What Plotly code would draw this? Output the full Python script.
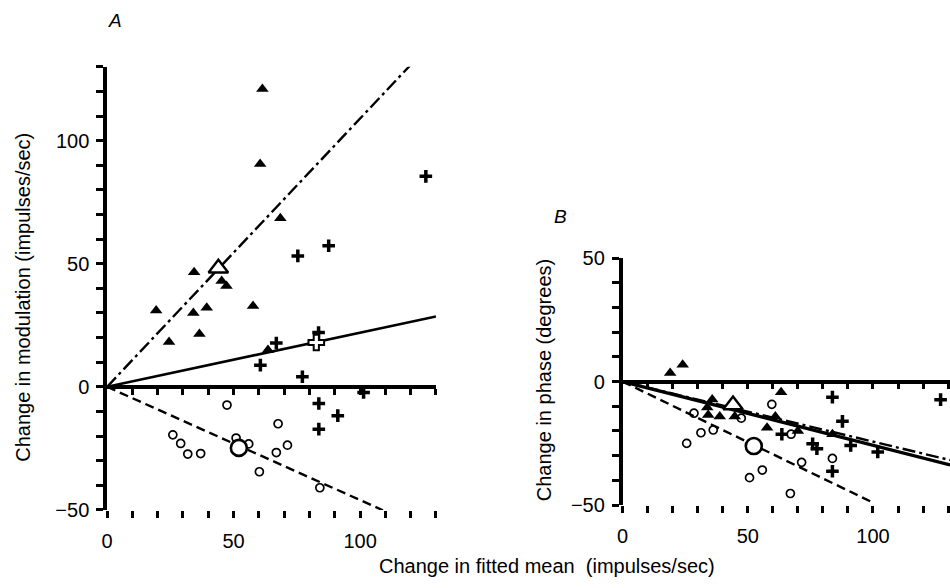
import plotly.graph_objects as go

# ---------------- Panel A data ----------------
A_tri_x = [61.4, 60.5, 68.5, 34.4, 45.3, 47.2, 19.4, 24.5, 34.1, 39.4, 36.5, 57.7, 63.6]
A_tri_y = [121, 90.5, 68.5, 46.5, 43, 41, 31, 18.2, 30, 32.1, 21.5, 32.8, 15]
A_open_tri_x = [44]
A_open_tri_y = [48.2]
A_plus_x = [126, 75.4, 87.6, 66.9, 60.6, 83.6, 77.2, 101.4, 83.7, 91.2, 83.7]
A_plus_y = [85.5, 53.2, 57.3, 17.8, 8.8, 22.1, 4.1, -2.3, -6.8, -11.7, -17.2]
A_open_plus_x = [82.7]
A_open_plus_y = [18]
A_circ_x = [47.4, 26, 29.1, 31.9, 37, 51, 56, 67.6, 66.9, 71.3, 60.2, 84.1]
A_circ_y = [-7.4, -19.5, -23, -27.3, -27.1, -20.8, -23.2, -15, -26.7, -23.7, -34.5, -41]
A_big_circ_x = [52.1]
A_big_circ_y = [-24.8]
# fitted lines through origin: slope and x extent
A_fit_slopes = {"dashdot": 1.09, "solid": 0.22, "dash": -0.46}
A_fit_xend = {"dashdot": 122, "solid": 130, "dash": 109}

# ---------------- Panel B data ----------------
B_tri_x = [19, 24, 35.8, 33.8, 34.2, 38.8, 46.1, 44.8, 63.3, 61, 57.7, 70, 83.8]
B_tri_y = [3.5, 6.8, -7.2, -10.5, -13.5, -14.1, -10.9, -14.1, -4.3, -14.1, -18.7, -20, -21.3]
B_open_tri_x = [44.1]
B_open_tri_y = [-9.5]
B_plus_x = [63.6, 83.8, 127, 87.8, 75.9, 77.6, 91.1, 101.9, 83.8]
B_plus_y = [-21.3, -6.3, -7.3, -16.1, -25.2, -27.2, -25.9, -28.5, -36.3]
B_circ_x = [28.5, 47.4, 31.3, 36.2, 25.6, 55.8, 50.7, 59.6, 67.3, 83.8, 71.5, 67]
B_circ_y = [-12.8, -14.8, -20.7, -19.6, -25, -35.8, -38.9, -9.2, -21.3, -31.1, -32.7, -45.3]
B_big_circ_x = [52.4]
B_big_circ_y = [-26.1]
B_fit_slopes = {"dashdot": -0.243, "solid": -0.258, "dash": -0.49}
B_fit_xend = {"dashdot": 130.8, "solid": 130.8, "dash": 100}

# tick labels
A_y_ticks = list(range(-50, 131, 10))
A_y_labels = {-50: "\u221250", 0: "0", 50: "50", 100: "100"}
B_y_ticks = list(range(-50, 51, 10))
B_y_labels = {-50: "\u221250", 0: "0", 50: "50"}
X_ticks = list(range(0, 131, 10))
X_labels = {0: "0", 50: "50", 100: "100"}

FONT = "Liberation Sans, Arial, sans-serif"
W, H = 950, 588

fig = go.Figure()

dash_styles = {"dashdot": "13px,4px,3px,4px", "solid": "solid", "dash": "9px,5px"}


def add_panel(xa, ya, tri, otri, plus, oplus, circ, bcirc, slopes, xend, solid_w):
    for k in ["dashdot", "solid", "dash"]:
        xs = [0, xend[k]]
        ys = [0, slopes[k] * xend[k]]
        fig.add_trace(go.Scatter(x=xs, y=ys, mode="lines", xaxis=xa, yaxis=ya,
                                 line=dict(color="black", width=solid_w if k == "solid" else 2.4,
                                           dash=dash_styles[k]),
                                 showlegend=False, hoverinfo="skip", cliponaxis=False))
    fig.add_trace(go.Scatter(x=circ[0], y=circ[1], mode="markers", xaxis=xa, yaxis=ya,
                             marker=dict(symbol="circle-open", size=8, color="black", line=dict(width=1.7)),
                             showlegend=False, cliponaxis=False))
    fig.add_trace(go.Scatter(x=bcirc[0], y=bcirc[1], mode="markers", xaxis=xa, yaxis=ya,
                             marker=dict(symbol="circle", size=16, color="white",
                                         line=dict(width=2.6, color="black")),
                             showlegend=False, cliponaxis=False))
    fig.add_trace(go.Scatter(x=tri[0], y=tri[1], mode="markers", xaxis=xa, yaxis=ya,
                             marker=dict(symbol="triangle-up", size=11, color="black"),
                             showlegend=False, cliponaxis=False))
    fig.add_trace(go.Scatter(x=plus[0], y=plus[1], mode="markers", xaxis=xa, yaxis=ya,
                             marker=dict(symbol="cross-thin", size=9, color="black",
                                         line=dict(width=3.5, color="black")),
                             showlegend=False, cliponaxis=False))
    if oplus is not None:
        fig.add_trace(go.Scatter(x=oplus[0], y=oplus[1], mode="markers", xaxis=xa, yaxis=ya,
                                 marker=dict(symbol="cross", size=13, color="white",
                                             line=dict(width=2, color="black")),
                                 showlegend=False, cliponaxis=False))
    fig.add_trace(go.Scatter(x=otri[0], y=otri[1], mode="markers", xaxis=xa, yaxis=ya,
                             marker=dict(symbol="triangle-up", size=17, color="white",
                                         line=dict(width=2.4, color="black")),
                             showlegend=False, cliponaxis=False))


add_panel("x", "y", (A_tri_x, A_tri_y), (A_open_tri_x, A_open_tri_y), (A_plus_x, A_plus_y),
          (A_open_plus_x, A_open_plus_y), (A_circ_x, A_circ_y), (A_big_circ_x, A_big_circ_y),
          A_fit_slopes, A_fit_xend, 2.6)
add_panel("x2", "y2", (B_tri_x, B_tri_y), (B_open_tri_x, B_open_tri_y), (B_plus_x, B_plus_y),
          None, (B_circ_x, B_circ_y), (B_big_circ_x, B_big_circ_y),
          B_fit_slopes, B_fit_xend, 3.4)

# pixel geometry
A_x0, A_x130 = 101.7, 432.7
A_ytop, A_ybot = 58.0, 518.3
B_x0 = 620.5
B_ytop, B_ybot = 256.7, 513.3
B_xmax = (W - B_x0) / 2.52

A_ydom = [(H - A_ybot) / H, (H - A_ytop) / H]
B_ydom = [(H - B_ybot) / H, (H - B_ytop) / H]

tickfont = dict(family=FONT, size=20, color="black")

common_y = dict(showgrid=False, zeroline=False, showline=True, linewidth=3.5, linecolor="black",
                ticks="outside", ticklen=7, tickwidth=3, tickcolor="black", tickfont=tickfont,
                ticklabelstandoff=3)
common_x = dict(showgrid=False, zeroline=False, showline=False,
                ticks="outside", ticklen=7, tickwidth=3, tickcolor="black", tickfont=tickfont,
                ticklabelstandoff=6)

fig.update_layout(
    width=W, height=H, margin=dict(l=0, r=0, t=0, b=0),
    paper_bgcolor="white", plot_bgcolor="rgba(0,0,0,0)", showlegend=False,
    xaxis=dict(domain=[A_x0 / W, A_x130 / W], range=[0, 130], anchor="y",
               tickvals=X_ticks, ticktext=[X_labels.get(v, "") for v in X_ticks], **common_x),
    yaxis=dict(domain=A_ydom, range=[-50, 130], anchor="x",
               tickvals=A_y_ticks, ticktext=[A_y_labels.get(v, "") for v in A_y_ticks], **common_y),
    xaxis2=dict(domain=[B_x0 / W, 1.0], range=[0, B_xmax], anchor="y2",
                tickvals=X_ticks, ticktext=[X_labels.get(v, "") for v in X_ticks], **common_x),
    yaxis2=dict(domain=B_ydom, range=[-50, 50], anchor="x2",
                tickvals=B_y_ticks, ticktext=[B_y_labels.get(v, "") for v in B_y_ticks], **common_y),
    # zero-level axes with downward ticks
    xaxis3=dict(overlaying="x", anchor="free", range=[0, 130],
                position=A_ydom[0] + (50 / 180) * (A_ydom[1] - A_ydom[0]),
                showgrid=False, zeroline=False, showline=True, linewidth=3.5, linecolor="black",
                ticks="outside", ticklen=6, tickwidth=3, tickcolor="black",
                tickvals=X_ticks[1:], showticklabels=False),
    xaxis4=dict(overlaying="x2", anchor="free", range=[0, B_xmax],
                position=B_ydom[0] + 0.5 * (B_ydom[1] - B_ydom[0]),
                showgrid=False, zeroline=False, showline=True, linewidth=3.5, linecolor="black",
                ticks="outside", ticklen=6, tickwidth=3, tickcolor="black",
                tickvals=X_ticks[1:], showticklabels=False),
)

# invisible traces so overlay axes are drawn
fig.add_trace(go.Scatter(x=[0], y=[0], xaxis="x3", yaxis="y", mode="markers",
                         marker=dict(opacity=0), showlegend=False, hoverinfo="skip"))
fig.add_trace(go.Scatter(x=[0], y=[0], xaxis="x4", yaxis="y2", mode="markers",
                         marker=dict(opacity=0), showlegend=False, hoverinfo="skip"))

annfont = dict(family=FONT, size=20, color="black")
fig.add_annotation(x=17 / W, y=(H - 297) / H, xref="paper", yref="paper", text="Change in modulation (impulses/sec)",
                   textangle=-90, showarrow=False, font=annfont, xanchor="center", yanchor="middle")
fig.add_annotation(x=541 / W, y=(H - 384) / H, xref="paper", yref="paper", text="Change in phase (degrees)",
                   textangle=-90, showarrow=False, font=annfont, xanchor="center", yanchor="middle")
fig.add_annotation(x=544 / W, y=(H - 577) / H, xref="paper", yref="paper",
                   text="Change in fitted mean  (impulses/sec)",
                   showarrow=False, font=annfont, xanchor="center", yanchor="middle")
fig.add_annotation(x=110 / W, y=(H - 10) / H, xref="paper", yref="paper", text="<i>A</i>",
                   showarrow=False, font=dict(family=FONT, size=19, color="black"),
                   xanchor="center", yanchor="middle")
fig.add_annotation(x=558 / W, y=(H - 214) / H, xref="paper", yref="paper", text="<i>B</i>",
                   showarrow=False, font=dict(family=FONT, size=19, color="black"),
                   xanchor="center", yanchor="middle")

fig.write_html("out.html")
